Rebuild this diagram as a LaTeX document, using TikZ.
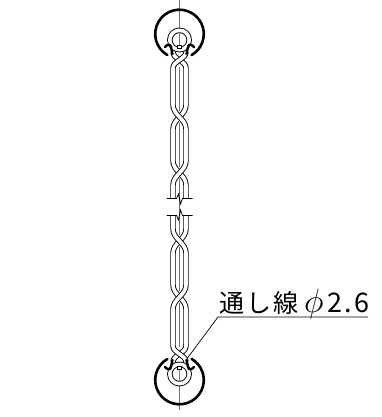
\documentclass[tikz,border=0pt]{standalone}
\usepackage{graphicx}
\usepackage{fontspec}
\newfontfamily\cjk{Noto Sans CJK JP}
\tikzset{
  strand/.style={draw=black,line width=0.9pt,double=white,double distance=3.6pt},
  ringline/.style={line width=2.6pt,line cap=round},
  hookline/.style={line width=2.4pt,line cap=round},
  centerline/.style={draw=black!55,line width=1pt},
  leader/.style={line width=0.7pt},
  breakline/.style={line width=0.8pt}
}
\begin{document}
\begin{tikzpicture}[x=1pt,y=1pt]
  \useasboundingbox (0,0) rectangle (381,417);
  % upper half, then the lower one as its mirror image
  \foreach \side in {1,-1}{
  \begin{scope}[shift={(179.5,210)},yscale=\side]
    \draw[centerline] (0,0) -- (0,28);
    \draw[centerline] (0,40) -- (0,84);
    \draw[centerline] (0,96) -- (0,140);
    \draw[centerline] (0,157) -- (0,\ifnum\side=1 210\else 203\fi);
    % wire, two strands twisted
    \draw[strand] (6.5,8.5) -- (6.5,22) .. controls (6.5,32) and (-6.5,36) .. (-6.5,46) -- (-6.5,78)
      .. controls (-6.5,88) and (6.5,92) .. (6.5,102) -- (6.5,139)
      .. controls (6.5,146) and (-6.5,148) .. (-6.5,155);
    \draw[strand] (-6.5,8.5) -- (-6.5,22) .. controls (-6.5,32) and (6.5,36) .. (6.5,46) -- (6.5,78)
      .. controls (6.5,88) and (-6.5,92) .. (-6.5,102) -- (-6.5,139)
      .. controls (-6.5,146) and (6.5,148) .. (6.5,155);
    % eye of the wire and ring
    \draw[strand,fill=white] (0,167) circle (9.7);
    \draw[centerline] (0,160) -- (0,175);
    \draw[line width=0.7pt,fill=white] (-2,159) rectangle (2,162);
    \draw[ringline] (0,173) ++(240:24.3) arc[start angle=240,end angle=-60,radius=24.3];
    \draw[hookline] (-14.5,160) .. controls (-12,163) and (-9,163) .. (-8.5,160) -- (-7,153);
    \draw[hookline] (14.5,160) .. controls (12,163) and (9,163) .. (8.5,160) -- (7,153);
    % break line
    \draw[fill=white,draw=none] (-13,0) rectangle (13,8.5);
    \draw[centerline] (0,0) -- (0,12);
    \draw[breakline] (-13,8.5) -- (-3,8.5) -- (-1,13) -- (1,3) -- (3,8.5) -- (13,8.5);
  \end{scope}}
  \node[inner sep=0pt,anchor=base west,font=\cjk\fontsize{25}{25}\selectfont] (label) at (219,104.5)
    {通\hspace{2pt}し\hspace{2pt}線\hspace{6pt}\scalebox{1.35}{$\phi$}\hspace{4pt}\fontsize{27}{27}\selectfont 2\hspace{2pt}.\hspace{2pt}6};
  \coordinate (labelleft) at (218,100);
  \coordinate (labelright) at (368,100);
  \coordinate (wiretip) at (187.5,59);
  \draw[leader] (labelright) -- (labelleft) -- (wiretip);
\end{tikzpicture}
\end{document}
